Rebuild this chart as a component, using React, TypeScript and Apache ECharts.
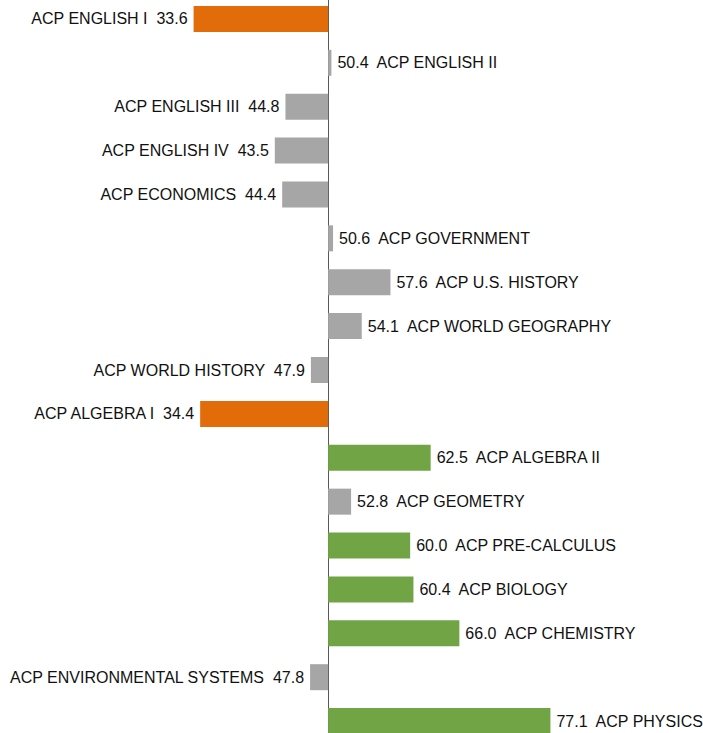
import React, { useEffect, useRef } from "react";
import * as echarts from "echarts";

// Courses listed top to bottom, with their scores; bars diverge from the 50 baseline.
const courses: string[] = [
  "ACP ENGLISH I",
  "ACP ENGLISH II",
  "ACP ENGLISH III",
  "ACP ENGLISH IV",
  "ACP ECONOMICS",
  "ACP GOVERNMENT",
  "ACP U.S. HISTORY",
  "ACP WORLD GEOGRAPHY",
  "ACP WORLD HISTORY",
  "ACP ALGEBRA I",
  "ACP ALGEBRA II",
  "ACP GEOMETRY",
  "ACP PRE-CALCULUS",
  "ACP BIOLOGY",
  "ACP CHEMISTRY",
  "ACP ENVIRONMENTAL SYSTEMS",
  "ACP PHYSICS",
];

const scores: number[] = [
  33.6, 50.4, 44.8, 43.5, 44.4, 50.6, 57.6, 54.1, 47.9, 34.4, 62.5, 52.8, 60.0,
  60.4, 66.0, 47.8, 77.1,
];

const BASELINE = 50;

const ORANGE = "#E36C0A";
const GRAY = "#A6A6A6";
const GREEN = "#70A444";

function colorFor(v: number): string {
  if (v < 40) return ORANGE;
  if (v >= 60) return GREEN;
  return GRAY;
}

export default function App() {
  const ref = useRef<HTMLDivElement>(null);

  useEffect(() => {
    if (!ref.current) return;
    const chart = echarts.init(ref.current, null, { renderer: "svg" });

    const data = scores.map((v, i) => {
      const left = v < BASELINE;
      return {
        value: +(v - BASELINE).toFixed(1),
        itemStyle: { color: colorFor(v) },
        label: {
          show: true,
          position: left ? "left" : "right",
          distance: 6,
          formatter: left
            ? `${courses[i]}  ${v.toFixed(1)}`
            : `${v.toFixed(1)}  ${courses[i]}`,
        },
      };
    });

    chart.setOption({
      animation: false,
      backgroundColor: "#ffffff",
      grid: { left: 0, right: 0, top: 0, bottom: 0, containLabel: false },
      xAxis: {
        type: "value",
        min: -40,
        max: 45.7,
        show: false,
        splitLine: { show: false },
      },
      yAxis: {
        type: "category",
        data: courses,
        inverse: true,
        axisLine: {
          show: true,
          onZero: true,
          lineStyle: { color: "#595959", width: 1 },
        },
        axisTick: { show: false },
        axisLabel: { show: false },
        splitLine: { show: false },
      },
      series: [
        {
          type: "bar",
          data,
          barWidth: 26,
          label: {
            color: "#111111",
            fontFamily: "Liberation Sans, Arial, sans-serif",
            fontSize: 16,
          },
        },
      ],
    });

    return () => chart.dispose();
  }, []);

  return (
    <div
      style={{
        position: "fixed",
        left: 0,
        top: 0,
        width: 703,
        height: 733,
        overflow: "hidden",
        background: "#ffffff",
      }}
    >
      <div
        ref={ref}
        style={{ position: "absolute", left: 0, top: -3, width: 703, height: 746 }}
      />
    </div>
  );
}
